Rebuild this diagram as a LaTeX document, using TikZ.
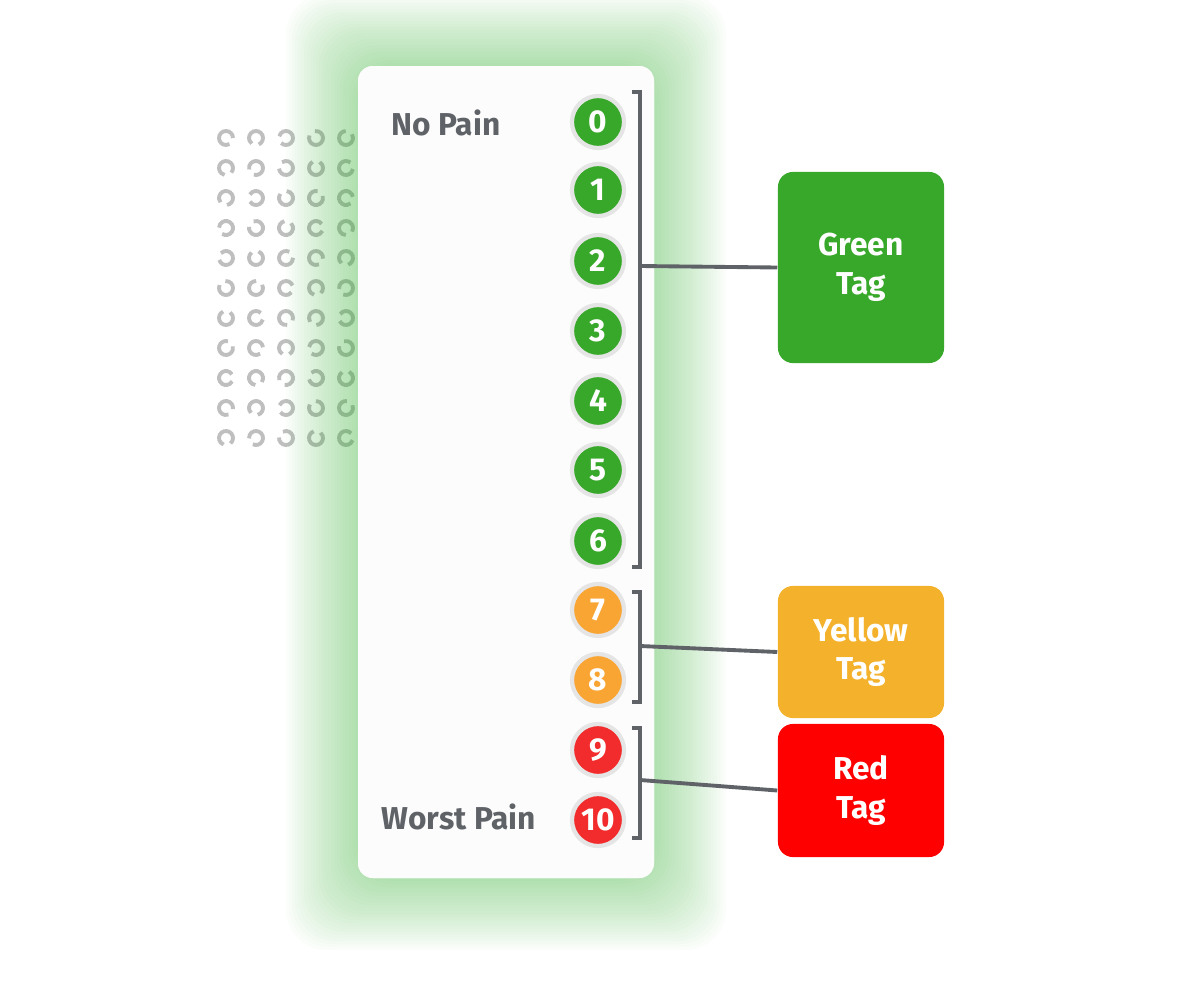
\documentclass[tikz,border=0pt]{standalone}
\usepackage{fontspec}
\setmainfont{Fira Sans}
\definecolor{painGreen}{HTML}{37A829}
\definecolor{painOrange}{HTML}{F9A533}
\definecolor{painRed}{HTML}{F22C2C}
\definecolor{tagYellow}{HTML}{F4B12B}
\definecolor{tagRed}{HTML}{FF0000}
\definecolor{inkGray}{HTML}{5F6368}
\definecolor{glowGreen}{HTML}{4CB84A}
\begin{document}
\begin{tikzpicture}[x=0.01cm, y=-0.01cm,
    scoreStyle/.style={circle, draw=black!10, line width=1.2pt, minimum size=0.52cm, inner sep=0pt, text=white, font=\bfseries\fontsize{9}{9}\selectfont},
    tagStyle/.style={rounded corners=0.15cm, text=white, align=center, font=\bfseries\fontsize{9}{11}\selectfont},
    labelStyle/.style={text=inkGray, font=\bfseries\fontsize{9}{9}\selectfont},
    bracketStyle/.style={draw=inkGray, line width=1.1pt}]
    \useasboundingbox (0,0) rectangle (1200,1000);
    % dotted pattern
    \foreach \i in {0,...,4}
      \foreach \j in {0,...,10}
        \draw[black!25, line width=1.1pt] ({226+30*\i+7*cos(\i*67+\j*41)},{138+30*\j+7*sin(\i*67+\j*41)})
          arc[start angle=\i*67+\j*41, delta angle=-300, radius=7];
    % glow around the panel
    \foreach \k in {1,...,24}
      \fill[glowGreen, opacity=0.025, rounded corners=0.4cm] ({358-3*\k},{66-3*\k}) rectangle ({654+3*\k},{878+3*\k});
    \fill[white, rounded corners=0.15cm] (358,66) rectangle (654,878);
    \fill[black!1, rounded corners=0.15cm] (358,66) rectangle (654,878);
    % scores
    \foreach \n/\yy/\cc in {0/122/painGreen, 1/190/painGreen, 2/261/painGreen, 3/331/painGreen,
                          4/401/painGreen, 5/470/painGreen, 6/541/painGreen, 7/610/painOrange,
                          8/680/painOrange, 9/750/painRed, 10/820/painRed}
      \node[scoreStyle, fill=\cc] (s\n) at (598,\yy) {\n};
    \node[labelStyle] (noPain) at (446,123) {No Pain};
    \node[labelStyle] (worstPain) at (459,817) {Worst Pain};
    % tags
    \node[tagStyle, fill=painGreen, minimum width=1.66cm, minimum height=1.91cm] (greenTag) at (861,267.5) {Green\\Tag};
    \node[tagStyle, fill=tagYellow, minimum width=1.66cm, minimum height=1.32cm] (yellowTag) at (861,652) {Yellow\\Tag};
    \node[tagStyle, fill=tagRed, minimum width=1.66cm, minimum height=1.33cm] (redTag) at (861,790.5) {Red\\Tag};
    % brackets
    \coordinate (gB) at (640,266);
    \coordinate (yB) at (640,646);
    \coordinate (rB) at (640,780);
    \draw[bracketStyle] (632,92) -- (640,92) -- (640,567) -- (632,567);
    \draw[bracketStyle] (632,592) -- (640,592) -- (640,702) -- (632,702);
    \draw[bracketStyle] (632,728) -- (640,728) -- (640,838) -- (632,838);
    \draw[bracketStyle] (gB) -- (greenTag.west);
    \draw[bracketStyle] (yB) -- (yellowTag.west);
    \draw[bracketStyle] (rB) -- (redTag.west);
\end{tikzpicture}
\end{document}
